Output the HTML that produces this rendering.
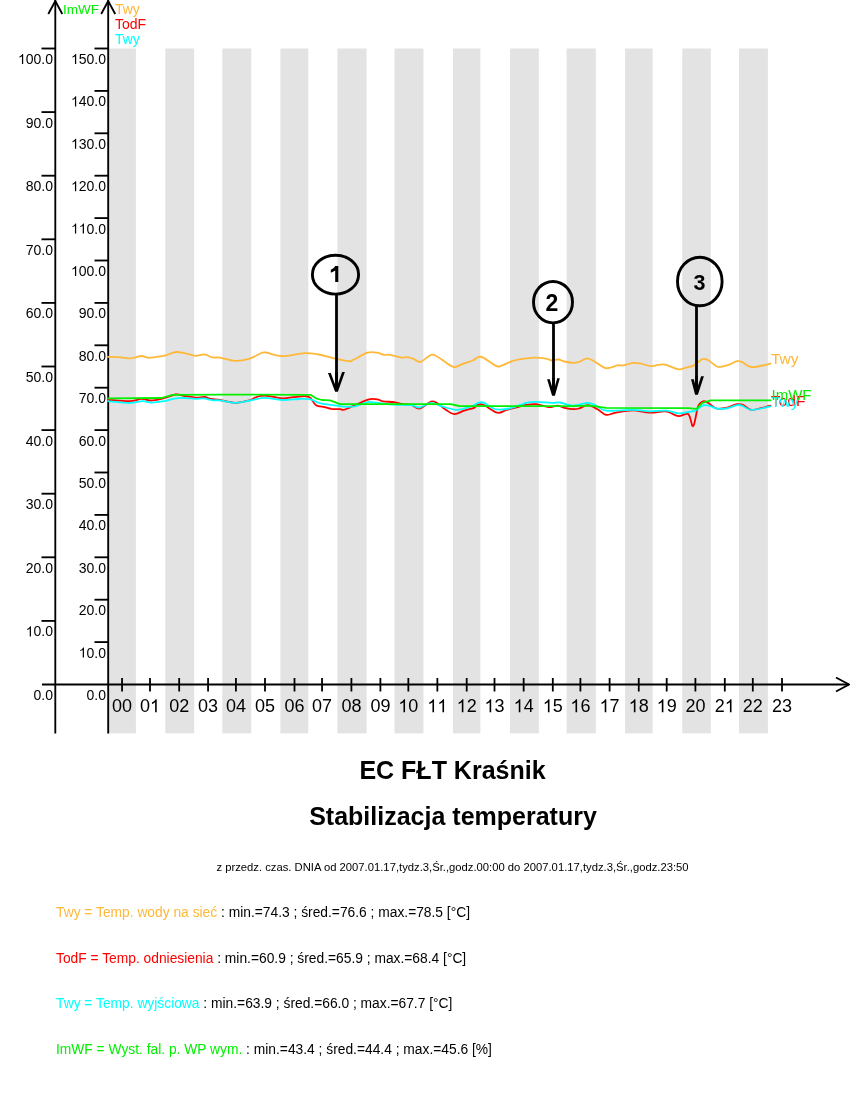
<!DOCTYPE html>
<html><head><meta charset="utf-8"><style>
html,body{margin:0;padding:0;background:#fff;}
body{width:850px;height:1100px;overflow:hidden;position:relative;font-family:"Liberation Sans",sans-serif;}
svg{position:absolute;left:0;top:0;will-change:transform;}
</style></head><body>
<svg width="850" height="1100" viewBox="0 0 850 1100">
<rect x="107.70" y="48.5" width="28.20" height="684.9" fill="#e3e3e3"/>
<rect x="165.30" y="48.5" width="28.90" height="684.9" fill="#e3e3e3"/>
<rect x="222.30" y="48.5" width="28.95" height="684.9" fill="#e3e3e3"/>
<rect x="280.40" y="48.5" width="27.90" height="684.9" fill="#e3e3e3"/>
<rect x="337.40" y="48.5" width="29.20" height="684.9" fill="#e3e3e3"/>
<rect x="394.55" y="48.5" width="28.90" height="684.9" fill="#e3e3e3"/>
<rect x="453.00" y="48.5" width="27.40" height="684.9" fill="#e3e3e3"/>
<rect x="510.00" y="48.5" width="28.85" height="684.9" fill="#e3e3e3"/>
<rect x="566.60" y="48.5" width="29.20" height="684.9" fill="#e3e3e3"/>
<rect x="625.10" y="48.5" width="27.55" height="684.9" fill="#e3e3e3"/>
<rect x="682.25" y="48.5" width="28.55" height="684.9" fill="#e3e3e3"/>
<rect x="739.00" y="48.5" width="28.90" height="684.9" fill="#e3e3e3"/>
<g stroke="#000" stroke-width="1.85" fill="none">
<line x1="55.3" y1="0" x2="55.3" y2="733.4"/>
<line x1="108.2" y1="0" x2="108.2" y2="733.4"/>
<polyline points="48.3,14 55.3,1 62.3,14"/>
<polyline points="101.2,14 108.2,1 115.2,14"/>
<line x1="42" y1="684.5" x2="849" y2="684.5"/>
<polyline points="836,677.5 849,684.5 836,691.5"/>
<line x1="41.5" y1="620.90" x2="55.3" y2="620.90"/>
<line x1="41.5" y1="557.30" x2="55.3" y2="557.30"/>
<line x1="41.5" y1="493.70" x2="55.3" y2="493.70"/>
<line x1="41.5" y1="430.10" x2="55.3" y2="430.10"/>
<line x1="41.5" y1="366.50" x2="55.3" y2="366.50"/>
<line x1="41.5" y1="302.90" x2="55.3" y2="302.90"/>
<line x1="41.5" y1="239.30" x2="55.3" y2="239.30"/>
<line x1="41.5" y1="175.70" x2="55.3" y2="175.70"/>
<line x1="41.5" y1="112.10" x2="55.3" y2="112.10"/>
<line x1="41.5" y1="48.50" x2="55.3" y2="48.50"/>
<line x1="94.5" y1="642.10" x2="108.2" y2="642.10"/>
<line x1="94.5" y1="599.70" x2="108.2" y2="599.70"/>
<line x1="94.5" y1="557.30" x2="108.2" y2="557.30"/>
<line x1="94.5" y1="514.90" x2="108.2" y2="514.90"/>
<line x1="94.5" y1="472.50" x2="108.2" y2="472.50"/>
<line x1="94.5" y1="430.10" x2="108.2" y2="430.10"/>
<line x1="94.5" y1="387.70" x2="108.2" y2="387.70"/>
<line x1="94.5" y1="345.30" x2="108.2" y2="345.30"/>
<line x1="94.5" y1="302.90" x2="108.2" y2="302.90"/>
<line x1="94.5" y1="260.50" x2="108.2" y2="260.50"/>
<line x1="94.5" y1="218.10" x2="108.2" y2="218.10"/>
<line x1="94.5" y1="175.70" x2="108.2" y2="175.70"/>
<line x1="94.5" y1="133.30" x2="108.2" y2="133.30"/>
<line x1="94.5" y1="90.90" x2="108.2" y2="90.90"/>
<line x1="94.5" y1="48.50" x2="108.2" y2="48.50"/>
<line x1="122.05" y1="678" x2="122.05" y2="691.5" stroke-width="1.8"/>
<line x1="150.00" y1="678" x2="150.00" y2="691.5" stroke-width="1.8"/>
<line x1="179.18" y1="678" x2="179.18" y2="691.5" stroke-width="1.8"/>
<line x1="208.07" y1="678" x2="208.07" y2="691.5" stroke-width="1.8"/>
<line x1="235.93" y1="678" x2="235.93" y2="691.5" stroke-width="1.8"/>
<line x1="265.00" y1="678" x2="265.00" y2="691.5" stroke-width="1.8"/>
<line x1="294.50" y1="678" x2="294.50" y2="691.5" stroke-width="1.8"/>
<line x1="322.05" y1="678" x2="322.05" y2="691.5" stroke-width="1.8"/>
<line x1="351.40" y1="678" x2="351.40" y2="691.5" stroke-width="1.8"/>
<line x1="380.40" y1="678" x2="380.40" y2="691.5" stroke-width="1.8"/>
<line x1="408.35" y1="678" x2="408.35" y2="691.5" stroke-width="1.8"/>
<line x1="437.35" y1="678" x2="437.35" y2="691.5" stroke-width="1.8"/>
<line x1="466.70" y1="678" x2="466.70" y2="691.5" stroke-width="1.8"/>
<line x1="494.50" y1="678" x2="494.50" y2="691.5" stroke-width="1.8"/>
<line x1="523.65" y1="678" x2="523.65" y2="691.5" stroke-width="1.8"/>
<line x1="552.80" y1="678" x2="552.80" y2="691.5" stroke-width="1.8"/>
<line x1="580.40" y1="678" x2="580.40" y2="691.5" stroke-width="1.8"/>
<line x1="609.60" y1="678" x2="609.60" y2="691.5" stroke-width="1.8"/>
<line x1="638.75" y1="678" x2="638.75" y2="691.5" stroke-width="1.8"/>
<line x1="666.70" y1="678" x2="666.70" y2="691.5" stroke-width="1.8"/>
<line x1="695.40" y1="678" x2="695.40" y2="691.5" stroke-width="1.8"/>
<line x1="724.80" y1="678" x2="724.80" y2="691.5" stroke-width="1.8"/>
<line x1="752.80" y1="678" x2="752.80" y2="691.5" stroke-width="1.8"/>
<line x1="782.00" y1="678" x2="782.00" y2="691.5" stroke-width="1.8"/>
</g>
<g font-family="Liberation Sans, sans-serif" fill="#000">
<text x="53.00" y="700.00" font-size="14" text-anchor="end">0.0</text>
<text x="53.00" y="636.40" font-size="14" text-anchor="end">&#x2007;0.0</text><path transform="translate(25.75,636.40) scale(0.006836,-0.006836)" d="M763,0 L583,0 L583,1147 Q518,1085 412,1023 Q307,961 223,930 L223,1104 Q374,1175 487,1276 Q600,1377 647,1472 L763,1472 Z"/>
<text x="53.00" y="572.80" font-size="14" text-anchor="end">20.0</text>
<text x="53.00" y="509.20" font-size="14" text-anchor="end">30.0</text>
<text x="53.00" y="445.60" font-size="14" text-anchor="end">40.0</text>
<text x="53.00" y="382.00" font-size="14" text-anchor="end">50.0</text>
<text x="53.00" y="318.40" font-size="14" text-anchor="end">60.0</text>
<text x="53.00" y="254.80" font-size="14" text-anchor="end">70.0</text>
<text x="53.00" y="191.20" font-size="14" text-anchor="end">80.0</text>
<text x="53.00" y="127.60" font-size="14" text-anchor="end">90.0</text>
<text x="53.00" y="64.00" font-size="14" text-anchor="end">&#x2007;00.0</text><path transform="translate(17.97,64.00) scale(0.006836,-0.006836)" d="M763,0 L583,0 L583,1147 Q518,1085 412,1023 Q307,961 223,930 L223,1104 Q374,1175 487,1276 Q600,1377 647,1472 L763,1472 Z"/>
<text x="106.00" y="700.00" font-size="14" text-anchor="end">0.0</text>
<text x="106.00" y="657.60" font-size="14" text-anchor="end">&#x2007;0.0</text><path transform="translate(78.75,657.60) scale(0.006836,-0.006836)" d="M763,0 L583,0 L583,1147 Q518,1085 412,1023 Q307,961 223,930 L223,1104 Q374,1175 487,1276 Q600,1377 647,1472 L763,1472 Z"/>
<text x="106.00" y="615.20" font-size="14" text-anchor="end">20.0</text>
<text x="106.00" y="572.80" font-size="14" text-anchor="end">30.0</text>
<text x="106.00" y="530.40" font-size="14" text-anchor="end">40.0</text>
<text x="106.00" y="488.00" font-size="14" text-anchor="end">50.0</text>
<text x="106.00" y="445.60" font-size="14" text-anchor="end">60.0</text>
<text x="106.00" y="403.20" font-size="14" text-anchor="end">70.0</text>
<text x="106.00" y="360.80" font-size="14" text-anchor="end">80.0</text>
<text x="106.00" y="318.40" font-size="14" text-anchor="end">90.0</text>
<text x="106.00" y="276.00" font-size="14" text-anchor="end">&#x2007;00.0</text><path transform="translate(70.97,276.00) scale(0.006836,-0.006836)" d="M763,0 L583,0 L583,1147 Q518,1085 412,1023 Q307,961 223,930 L223,1104 Q374,1175 487,1276 Q600,1377 647,1472 L763,1472 Z"/>
<text x="106.00" y="233.60" font-size="14" text-anchor="end">&#x2007;&#x2007;0.0</text><path transform="translate(70.97,233.60) scale(0.006836,-0.006836)" d="M763,0 L583,0 L583,1147 Q518,1085 412,1023 Q307,961 223,930 L223,1104 Q374,1175 487,1276 Q600,1377 647,1472 L763,1472 Z"/><path transform="translate(78.75,233.60) scale(0.006836,-0.006836)" d="M763,0 L583,0 L583,1147 Q518,1085 412,1023 Q307,961 223,930 L223,1104 Q374,1175 487,1276 Q600,1377 647,1472 L763,1472 Z"/>
<text x="106.00" y="191.20" font-size="14" text-anchor="end">&#x2007;20.0</text><path transform="translate(70.97,191.20) scale(0.006836,-0.006836)" d="M763,0 L583,0 L583,1147 Q518,1085 412,1023 Q307,961 223,930 L223,1104 Q374,1175 487,1276 Q600,1377 647,1472 L763,1472 Z"/>
<text x="106.00" y="148.80" font-size="14" text-anchor="end">&#x2007;30.0</text><path transform="translate(70.97,148.80) scale(0.006836,-0.006836)" d="M763,0 L583,0 L583,1147 Q518,1085 412,1023 Q307,961 223,930 L223,1104 Q374,1175 487,1276 Q600,1377 647,1472 L763,1472 Z"/>
<text x="106.00" y="106.40" font-size="14" text-anchor="end">&#x2007;40.0</text><path transform="translate(70.97,106.40) scale(0.006836,-0.006836)" d="M763,0 L583,0 L583,1147 Q518,1085 412,1023 Q307,961 223,930 L223,1104 Q374,1175 487,1276 Q600,1377 647,1472 L763,1472 Z"/>
<text x="106.00" y="64.00" font-size="14" text-anchor="end">&#x2007;50.0</text><path transform="translate(70.97,64.00) scale(0.006836,-0.006836)" d="M763,0 L583,0 L583,1147 Q518,1085 412,1023 Q307,961 223,930 L223,1104 Q374,1175 487,1276 Q600,1377 647,1472 L763,1472 Z"/>
<text x="122.05" y="712.30" font-size="18" text-anchor="middle">00</text>
<text x="150.00" y="712.30" font-size="18" text-anchor="middle">0&#x2007;</text><path transform="translate(150.00,712.30) scale(0.008789,-0.008789)" d="M763,0 L583,0 L583,1147 Q518,1085 412,1023 Q307,961 223,930 L223,1104 Q374,1175 487,1276 Q600,1377 647,1472 L763,1472 Z"/>
<text x="179.18" y="712.30" font-size="18" text-anchor="middle">02</text>
<text x="208.07" y="712.30" font-size="18" text-anchor="middle">03</text>
<text x="235.93" y="712.30" font-size="18" text-anchor="middle">04</text>
<text x="265.00" y="712.30" font-size="18" text-anchor="middle">05</text>
<text x="294.50" y="712.30" font-size="18" text-anchor="middle">06</text>
<text x="322.05" y="712.30" font-size="18" text-anchor="middle">07</text>
<text x="351.40" y="712.30" font-size="18" text-anchor="middle">08</text>
<text x="380.40" y="712.30" font-size="18" text-anchor="middle">09</text>
<text x="408.35" y="712.30" font-size="18" text-anchor="middle">&#x2007;0</text><path transform="translate(398.34,712.30) scale(0.008789,-0.008789)" d="M763,0 L583,0 L583,1147 Q518,1085 412,1023 Q307,961 223,930 L223,1104 Q374,1175 487,1276 Q600,1377 647,1472 L763,1472 Z"/>
<text x="437.35" y="712.30" font-size="18" text-anchor="middle">&#x2007;&#x2007;</text><path transform="translate(427.34,712.30) scale(0.008789,-0.008789)" d="M763,0 L583,0 L583,1147 Q518,1085 412,1023 Q307,961 223,930 L223,1104 Q374,1175 487,1276 Q600,1377 647,1472 L763,1472 Z"/><path transform="translate(437.35,712.30) scale(0.008789,-0.008789)" d="M763,0 L583,0 L583,1147 Q518,1085 412,1023 Q307,961 223,930 L223,1104 Q374,1175 487,1276 Q600,1377 647,1472 L763,1472 Z"/>
<text x="466.70" y="712.30" font-size="18" text-anchor="middle">&#x2007;2</text><path transform="translate(456.69,712.30) scale(0.008789,-0.008789)" d="M763,0 L583,0 L583,1147 Q518,1085 412,1023 Q307,961 223,930 L223,1104 Q374,1175 487,1276 Q600,1377 647,1472 L763,1472 Z"/>
<text x="494.50" y="712.30" font-size="18" text-anchor="middle">&#x2007;3</text><path transform="translate(484.49,712.30) scale(0.008789,-0.008789)" d="M763,0 L583,0 L583,1147 Q518,1085 412,1023 Q307,961 223,930 L223,1104 Q374,1175 487,1276 Q600,1377 647,1472 L763,1472 Z"/>
<text x="523.65" y="712.30" font-size="18" text-anchor="middle">&#x2007;4</text><path transform="translate(513.64,712.30) scale(0.008789,-0.008789)" d="M763,0 L583,0 L583,1147 Q518,1085 412,1023 Q307,961 223,930 L223,1104 Q374,1175 487,1276 Q600,1377 647,1472 L763,1472 Z"/>
<text x="552.80" y="712.30" font-size="18" text-anchor="middle">&#x2007;5</text><path transform="translate(542.79,712.30) scale(0.008789,-0.008789)" d="M763,0 L583,0 L583,1147 Q518,1085 412,1023 Q307,961 223,930 L223,1104 Q374,1175 487,1276 Q600,1377 647,1472 L763,1472 Z"/>
<text x="580.40" y="712.30" font-size="18" text-anchor="middle">&#x2007;6</text><path transform="translate(570.39,712.30) scale(0.008789,-0.008789)" d="M763,0 L583,0 L583,1147 Q518,1085 412,1023 Q307,961 223,930 L223,1104 Q374,1175 487,1276 Q600,1377 647,1472 L763,1472 Z"/>
<text x="609.60" y="712.30" font-size="18" text-anchor="middle">&#x2007;7</text><path transform="translate(599.59,712.30) scale(0.008789,-0.008789)" d="M763,0 L583,0 L583,1147 Q518,1085 412,1023 Q307,961 223,930 L223,1104 Q374,1175 487,1276 Q600,1377 647,1472 L763,1472 Z"/>
<text x="638.75" y="712.30" font-size="18" text-anchor="middle">&#x2007;8</text><path transform="translate(628.74,712.30) scale(0.008789,-0.008789)" d="M763,0 L583,0 L583,1147 Q518,1085 412,1023 Q307,961 223,930 L223,1104 Q374,1175 487,1276 Q600,1377 647,1472 L763,1472 Z"/>
<text x="666.70" y="712.30" font-size="18" text-anchor="middle">&#x2007;9</text><path transform="translate(656.69,712.30) scale(0.008789,-0.008789)" d="M763,0 L583,0 L583,1147 Q518,1085 412,1023 Q307,961 223,930 L223,1104 Q374,1175 487,1276 Q600,1377 647,1472 L763,1472 Z"/>
<text x="695.40" y="712.30" font-size="18" text-anchor="middle">20</text>
<text x="724.80" y="712.30" font-size="18" text-anchor="middle">2&#x2007;</text><path transform="translate(724.80,712.30) scale(0.008789,-0.008789)" d="M763,0 L583,0 L583,1147 Q518,1085 412,1023 Q307,961 223,930 L223,1104 Q374,1175 487,1276 Q600,1377 647,1472 L763,1472 Z"/>
<text x="752.80" y="712.30" font-size="18" text-anchor="middle">22</text>
<text x="782.00" y="712.30" font-size="18" text-anchor="middle">23</text>
</g>
<g font-family="Liberation Sans, sans-serif" font-size="14">
<text x="63" y="13.7" fill="#00f000" font-size="13.5">ImWF</text>
<text x="114.9" y="13.7" fill="#ffb838">Twy</text>
<text x="114.9" y="29.1" fill="#ff0000">TodF</text>
<text x="114.9" y="44.3" fill="#00ffff">Twy</text>
</g>
<path d="M108.0,356.9 C109.7,356.9 114.8,356.9 118.4,357.2 C122.0,357.4 127.0,358.3 129.7,358.4 C132.4,358.5 132.6,358.0 134.6,357.6 C136.6,357.2 139.2,356.0 141.7,356.0 C144.2,356.0 146.2,357.8 149.5,357.8 C152.8,357.8 158.6,356.7 161.5,356.2 C164.4,355.7 164.6,355.5 167.1,354.8 C169.6,354.1 173.2,352.2 176.3,352.0 C179.4,351.8 182.3,352.8 185.5,353.4 C188.7,354.0 192.2,355.6 195.4,355.8 C198.6,356.0 201.7,354.1 204.5,354.4 C207.3,354.7 209.7,356.9 212.3,357.4 C214.9,357.9 216.2,357.0 220.0,357.6 C223.8,358.2 230.0,360.6 234.8,360.8 C239.6,361.0 244.3,360.2 248.9,358.8 C253.5,357.4 259.2,353.7 262.4,352.7 C265.6,351.7 264.7,352.4 268.0,353.0 C271.3,353.6 276.0,356.2 282.1,356.2 C288.2,356.2 298.6,353.4 304.7,353.1 C310.8,352.8 314.1,353.7 318.8,354.5 C323.5,355.3 328.1,357.0 333.0,358.1 C337.9,359.2 345.0,360.9 348.4,361.2 C351.8,361.5 350.2,361.2 353.4,359.8 C356.6,358.4 363.5,353.9 367.5,352.7 C371.5,351.5 374.7,352.3 377.4,352.7 C380.1,353.1 381.6,354.4 383.7,354.8 C385.8,355.2 387.1,354.3 390.0,354.8 C392.9,355.3 398.6,357.2 401.4,357.6 C404.2,358.0 404.9,356.9 407.0,357.2 C409.1,357.4 411.8,358.3 414.0,359.1 C416.2,359.9 417.6,362.6 420.4,361.9 C423.2,361.2 428.3,355.8 431.0,354.8 C433.7,353.9 434.3,355.0 436.7,356.2 C439.1,357.4 442.2,360.1 445.1,361.9 C448.0,363.7 451.0,366.9 454.2,367.1 C457.4,367.3 461.0,364.4 464.1,363.3 C467.2,362.2 470.2,361.5 472.6,360.5 C475.0,359.5 476.4,357.7 478.2,357.2 C480.0,356.7 480.1,356.1 483.2,357.6 C486.3,359.1 493.4,364.8 496.6,366.1 C499.8,367.4 499.6,366.2 502.2,365.4 C504.8,364.6 509.0,362.2 512.1,361.2 C515.2,360.1 516.8,359.7 520.6,359.1 C524.4,358.5 530.5,357.7 534.7,357.6 C538.9,357.5 543.2,358.1 546.0,358.6 C548.8,359.1 549.6,360.4 551.7,360.5 C553.8,360.6 556.6,359.3 558.7,359.5 C560.8,359.7 561.9,360.9 564.4,361.5 C566.9,362.1 571.0,362.8 573.5,362.9 C576.0,363.0 576.8,362.6 579.1,361.9 C581.5,361.1 584.8,358.3 587.6,358.4 C590.4,358.5 593.0,361.0 596.1,362.6 C599.2,364.2 602.5,367.7 606.0,368.2 C609.5,368.7 614.4,365.9 617.2,365.4 C620.0,364.9 620.3,365.8 622.9,365.4 C625.5,365.0 629.8,363.2 632.8,362.9 C635.8,362.6 638.2,363.2 641.2,363.7 C644.2,364.2 647.6,366.0 651.1,366.1 C654.6,366.2 659.3,364.3 662.4,364.3 C665.5,364.3 666.8,365.2 669.5,366.1 C672.2,367.0 675.5,369.2 678.4,369.4 C681.3,369.6 684.2,368.2 686.8,367.5 C689.4,366.8 691.3,366.8 693.9,365.4 C696.5,364.0 699.9,359.9 702.4,359.1 C704.9,358.3 706.1,359.2 708.7,360.5 C711.3,361.8 714.7,366.0 717.9,366.8 C721.1,367.6 724.6,366.0 727.8,365.1 C731.0,364.2 734.6,361.7 737.0,361.2 C739.4,360.7 739.4,360.9 741.9,361.9 C744.4,362.9 747.0,366.9 751.8,367.2 C756.6,367.5 767.4,364.3 770.5,363.7" fill="none" stroke="#ffb838" stroke-width="1.8" stroke-linejoin="round" stroke-linecap="round"/>
<path d="M108.0,399.8 C111.6,400.0 124.1,401.4 129.7,401.2 C135.3,401.0 138.3,398.9 141.7,398.8 C145.1,398.7 146.9,400.5 150.2,400.5 C153.5,400.5 157.3,399.8 161.5,398.8 C165.7,397.8 171.8,395.0 175.6,394.5 C179.3,394.0 180.7,395.3 184.0,395.8 C187.3,396.3 192.0,397.4 195.4,397.6 C198.8,397.8 201.9,396.8 204.5,397.0 C207.1,397.2 208.3,398.5 210.9,399.0 C213.5,399.5 215.9,399.4 220.0,400.0 C224.1,400.6 230.8,402.7 235.5,402.8 C240.2,402.9 244.4,401.8 248.2,400.7 C252.0,399.6 255.0,397.3 258.1,396.5 C261.2,395.7 262.6,395.5 266.6,395.8 C270.6,396.1 277.6,398.1 282.1,398.3 C286.6,398.5 289.6,397.6 293.4,397.2 C297.2,396.8 301.9,396.1 304.7,396.2 C307.5,396.3 308.5,396.4 310.4,397.9 C312.3,399.4 313.6,403.7 316.0,405.2 C318.4,406.7 321.9,406.5 324.5,407.1 C327.1,407.7 328.9,408.5 331.5,408.9 C334.1,409.2 338.0,409.0 340.0,409.2 C342.0,409.4 342.0,410.1 343.5,409.9 C345.0,409.7 346.3,409.0 349.1,407.8 C351.9,406.6 357.1,404.2 360.4,402.8 C363.7,401.4 366.1,399.9 368.9,399.3 C371.7,398.7 375.0,399.0 377.4,399.3 C379.8,399.6 380.2,400.9 383.0,401.4 C385.8,401.9 391.0,401.6 394.3,402.1 C397.6,402.6 400.0,403.7 402.8,404.2 C405.6,404.7 408.4,404.3 411.2,405.0 C414.0,405.7 416.4,409.1 419.7,408.5 C423.0,407.9 428.2,402.6 431.0,401.7 C433.8,400.8 434.3,401.6 436.7,402.8 C439.1,404.1 442.2,407.3 445.1,409.2 C448.0,411.1 451.0,413.9 454.2,414.1 C457.4,414.3 460.8,411.7 464.1,410.6 C467.4,409.6 471.6,408.8 474.0,407.8 C476.4,406.8 476.6,405.2 478.2,404.7 C479.8,404.2 480.7,403.7 483.9,405.0 C487.1,406.3 493.5,411.9 497.3,412.7 C501.1,413.5 503.1,410.8 506.5,409.9 C509.9,409.0 514.5,407.9 517.8,407.1 C521.1,406.3 523.2,405.5 526.2,405.0 C529.2,404.5 532.3,403.8 536.1,404.2 C539.9,404.6 545.3,406.9 548.8,407.1 C552.3,407.3 554.7,405.5 557.3,405.6 C559.9,405.7 561.7,407.2 564.4,407.8 C567.1,408.4 571.0,409.1 573.5,409.2 C576.0,409.3 576.8,409.2 579.1,408.5 C581.5,407.8 584.5,405.1 587.6,405.2 C590.7,405.3 594.4,407.6 597.5,409.2 C600.6,410.8 603.0,414.2 606.0,414.8 C609.0,415.4 611.3,413.4 615.8,412.7 C620.3,411.9 627.1,410.3 632.8,410.3 C638.4,410.3 644.5,412.5 649.7,412.7 C654.9,412.9 660.7,411.4 663.8,411.3 C666.9,411.2 666.1,411.2 668.5,412.0 C670.9,412.8 675.1,415.8 678.4,416.2 C681.7,416.6 685.7,412.5 688.2,414.1 C690.7,415.8 691.6,427.4 693.2,426.1 C694.9,424.8 696.5,410.5 698.1,406.4 C699.8,402.3 701.5,402.0 703.1,401.4 C704.8,400.8 705.8,401.6 708.0,402.8 C710.2,404.0 713.4,407.7 716.5,408.5 C719.6,409.3 723.0,408.5 726.4,407.8 C729.8,407.1 734.2,404.7 737.0,404.2 C739.8,403.7 740.8,404.1 743.3,405.0 C745.8,405.9 747.3,409.8 751.8,409.9 C756.3,410.0 767.4,406.3 770.5,405.6" fill="none" stroke="#ff0000" stroke-width="1.8" stroke-linejoin="round" stroke-linecap="round"/>
<path d="M108.0,401.2 C111.6,401.5 124.0,403.0 129.7,403.0 C135.4,403.0 138.8,401.3 142.4,401.2 C146.1,401.1 147.9,402.6 151.6,402.6 C155.2,402.6 160.3,401.9 164.3,401.2 C168.3,400.5 172.3,398.9 175.6,398.4 C178.9,397.9 180.7,397.9 184.0,398.0 C187.3,398.1 192.1,398.7 195.4,398.8 C198.7,398.9 201.0,398.2 203.8,398.4 C206.6,398.6 209.6,399.9 212.3,400.2 C215.0,400.5 216.4,400.0 220.0,400.4 C223.6,400.8 229.3,402.7 234.0,402.8 C238.7,402.9 243.2,401.8 248.2,401.0 C253.2,400.2 258.1,398.1 263.8,397.9 C269.5,397.7 276.2,399.8 282.1,400.0 C288.0,400.2 294.3,399.1 299.0,399.0 C303.7,398.9 307.1,398.7 310.4,399.3 C313.7,399.9 315.0,401.8 318.8,402.8 C322.6,403.8 328.9,404.6 333.0,405.2 C337.1,405.8 339.9,406.4 343.5,406.6 C347.1,406.8 350.8,407.1 354.8,406.4 C358.8,405.6 363.7,402.7 367.5,402.1 C371.3,401.5 372.9,402.4 377.4,402.8 C381.9,403.2 388.7,404.3 394.3,404.7 C399.9,405.1 407.0,404.7 411.2,405.2 C415.4,405.7 416.4,407.9 419.7,407.5 C423.0,407.1 427.2,403.0 431.0,402.8 C434.8,402.6 437.9,405.2 442.3,406.4 C446.7,407.6 452.3,409.9 457.1,409.9 C461.9,409.9 467.7,407.6 471.2,406.4 C474.7,405.2 476.1,403.4 478.2,402.8 C480.3,402.2 481.1,401.7 483.9,402.8 C486.7,403.9 491.0,408.2 495.2,409.2 C499.4,410.1 504.1,409.6 509.3,408.5 C514.5,407.4 521.7,403.9 526.2,402.8 C530.7,401.7 531.9,401.8 536.1,401.8 C540.4,401.8 547.7,402.7 551.7,402.8 C555.7,402.9 556.5,402.0 560.1,402.5 C563.7,403.0 568.9,405.6 573.5,405.6 C578.1,405.7 583.8,402.8 587.6,402.8 C591.4,402.8 593.0,404.3 596.1,405.6 C599.2,406.9 599.9,409.9 606.0,410.6 C612.1,411.3 625.5,409.8 632.8,409.9 C640.1,410.0 644.1,411.2 649.7,411.3 C655.3,411.4 661.8,410.2 666.6,410.6 C671.4,411.0 674.8,413.2 678.4,413.4 C682.0,413.6 685.4,412.5 688.2,412.0 C691.0,411.5 692.7,411.7 695.3,410.6 C697.9,409.5 701.2,405.9 703.8,405.2 C706.4,404.5 708.7,405.8 710.8,406.4 C712.9,406.9 713.9,408.1 716.5,408.5 C719.1,408.9 723.0,409.1 726.4,408.5 C729.8,407.9 734.4,405.7 737.0,405.2 C739.6,404.7 739.4,404.8 741.9,405.6 C744.4,406.4 747.0,409.8 751.8,409.9 C756.6,410.0 767.4,407.0 770.5,406.4" fill="none" stroke="#00ffff" stroke-width="1.8" stroke-linejoin="round" stroke-linecap="round"/>
<polyline points="108.0,398.4 161.5,398.0 172.8,394.8 220.0,394.6 310.4,394.8 316.0,398.3 321.7,400.0 330.1,400.4 340.0,404.2 343.5,404.2 451.0,404.2 459.0,406.0 570.0,406.1 590.4,405.6 606.0,407.8 688.2,408.2 696.7,408.9 702.4,402.8 710.8,400.4 770.5,400.4" fill="none" stroke="#00f000" stroke-width="1.8" stroke-linejoin="round" stroke-linecap="round"/>
<g font-family="Liberation Sans, sans-serif" font-size="15.5">
<text x="771" y="364.2" fill="#ffb838">Twy</text>
<text x="771" y="406" fill="#ff0000">TodF</text>
<text x="771" y="406.7" fill="#00ffff">Twy</text>
<text x="771.5" y="400" fill="#00f000" font-size="15">ImWF</text>
</g>
<ellipse cx="335.5" cy="274.7" rx="23.1" ry="19.4" fill="none" stroke="#000" stroke-width="2.9"/>
<rect x="335.10" y="294.10" width="2.8" height="93.90" fill="#000"/>
<polygon points="328,373.1 330.8,373.1 335.1,384.4 335.1,372 337.9,372 337.9,383.9 342.1,372.1 344.9,372.1 337.9,391.8 335.1,391.8" fill="#000"/>
<path d="M335.2,266 L338.3,266 L338.3,282 L335.2,282 L335.2,270.4 C333.8,271.4 332.3,272.2 330.8,272.7 L330.8,269.8 C332.6,269 334.4,267.8 335.2,266 Z" fill="#000"/>
<ellipse cx="553" cy="302.2" rx="19.5" ry="20.7" fill="none" stroke="#000" stroke-width="2.9"/>
<rect x="552.10" y="322.90" width="2.8" height="67.10" fill="#000"/>
<polygon points="547.1,379.2 549.8,379.2 552.1,386.8 552.1,378 554.9,378 554.9,386.5 557.2,378.3 559.8,378.3 554.9,395.8 552.1,395.8" fill="#000"/>
<text x="552" y="311" font-family="Liberation Sans, sans-serif" font-weight="bold" font-size="23" text-anchor="middle">2</text>
<ellipse cx="699.8" cy="281.5" rx="22.3" ry="24.3" fill="none" stroke="#000" stroke-width="2.9"/>
<rect x="695.10" y="305.80" width="2.8" height="84.20" fill="#000"/>
<polygon points="691,379.2 693.8,379.2 695.1,384.1 695.1,376 697.9,376 697.9,386.1 701.1,376.2 703.9,376.2 697.9,394.7 695.1,394.7" fill="#000"/>
<text x="699.6" y="289.9" font-family="Liberation Sans, sans-serif" font-weight="bold" font-size="21.5" text-anchor="middle">3</text>
<g font-family="Liberation Sans, sans-serif" font-weight="bold" font-size="25" text-anchor="middle">
<text x="452.5" y="779.1">EC FŁT Kraśnik</text>
<text x="453" y="825.2">Stabilizacja temperatury</text>
</g>
<text x="452.5" y="871.1" font-family="Liberation Sans, sans-serif" font-size="11.25" text-anchor="middle">z przedz. czas. DNIA od 2007.01.17,tydz.3,Śr.,godz.00:00 do 2007.01.17,tydz.3,Śr.,godz.23:50</text>
<g font-family="Liberation Sans, sans-serif" font-size="13.8">
<text x="56" y="917.2"><tspan fill="#ffb838">Twy = Temp. wody na sieć</tspan> : min.=74.3 ; śred.=76.6 ; max.=78.5 [°C]</text>
<text x="56" y="963.2"><tspan fill="#ff0000">TodF = Temp. odniesienia</tspan> : min.=60.9 ; śred.=65.9 ; max.=68.4 [°C]</text>
<text x="56" y="1008.3"><tspan fill="#00ffff">Twy = Temp. wyjściowa</tspan> : min.=63.9 ; śred.=66.0 ; max.=67.7 [°C]</text>
<text x="56" y="1054.3"><tspan fill="#00f000">ImWF = Wyst. fal. p. WP wym.</tspan> : min.=43.4 ; śred.=44.4 ; max.=45.6 [%]</text>
</g>
</svg>
</body></html>
